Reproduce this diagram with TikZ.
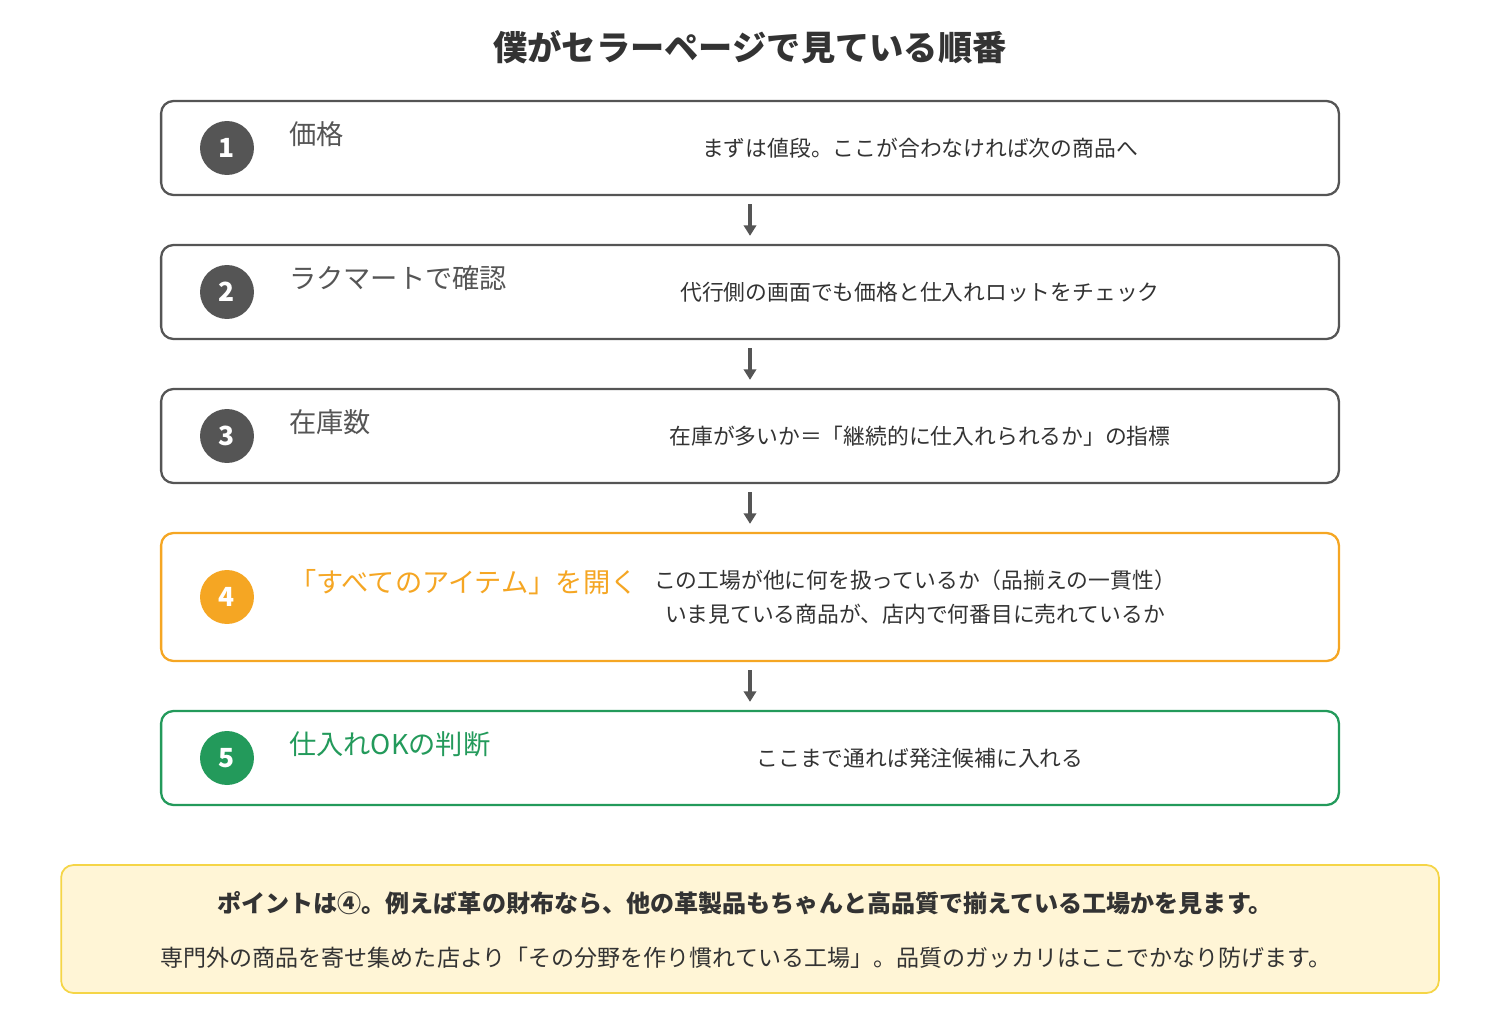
\documentclass[tikz,border=0pt]{standalone}
\usepackage{fontspec}
\newfontfamily\jp{Noto Sans CJK JP}
\usetikzlibrary{arrows.meta, positioning}
\definecolor{boxgray}{HTML}{555555}
\definecolor{textgray}{HTML}{333333}
\definecolor{steporange}{HTML}{F5A623}
\definecolor{stepgreen}{HTML}{239A5B}
\definecolor{notefill}{HTML}{FFF5D6}
\definecolor{noteline}{HTML}{F5D547}

\tikzset{
  step/.style={draw=#1, line width=1.3pt, rounded corners=7pt, minimum width=23.56cm, fill=white},
  num/.style={circle, fill=#1, minimum size=1.08cm, inner sep=0pt, text=white, font=\jp\bfseries\fontsize{15}{15}\selectfont},
  head/.style={anchor=west, text=#1, font=\jp\fontsize{15.5}{18}\selectfont},
  desc/.style={text=textgray, align=center, font=\jp\fontsize{12.4}{19}\selectfont},
  flow/.style={-{Triangle[length=6pt,width=7pt]}, line width=2pt, draw=boxgray}
}

\begin{document}
\begin{tikzpicture}[x=0.02cm, y=-0.02cm]
        \useasboundingbox (0,0) rectangle (1500,1030);

        % Title
        \node[text=textgray, font=\jp\bfseries\fontsize{19.5}{19.5}\selectfont] (title) at (750,47) {僕がセラーページで見ている順番};

        % Steps
        \node[step=boxgray, minimum height=1.88cm] (s1) at (750,148) {};
        \node[step=boxgray, minimum height=1.88cm] (s2) at (750,292) {};
        \node[step=boxgray, minimum height=1.88cm] (s3) at (750,436) {};
        \node[step=steporange, minimum height=2.56cm] (s4) at (750,597) {};
        \node[step=stepgreen, minimum height=1.88cm] (s5) at (750,758) {};

        \node[num=boxgray] (n1) at (227,148) {1};
        \node[num=boxgray] (n2) at (227,292) {2};
        \node[num=boxgray] (n3) at (227,436) {3};
        \node[num=steporange] (n4) at (227,597) {4};
        \node[num=stepgreen] (n5) at (227,758) {5};

        \node[head=boxgray] (h1) at (283,134) {価格};
        \node[head=boxgray] (h2) at (283,278) {ラクマートで確認};
        \node[head=boxgray] (h3) at (283,422) {在庫数};
        \node[head=steporange] (h4) at (283,582) {「すべてのアイテム」を開く};
        \node[head=stepgreen] (h5) at (283,744) {仕入れOKの判断};

        \node[desc] (d1) at (920,148) {まずは値段。ここが合わなければ次の商品へ};
        \node[desc] (d2) at (920,292) {代行側の画面でも価格と仕入れロットをチェック};
        \node[desc] (d3) at (920,436) {在庫が多いか＝「継続的に仕入れられるか」の指標};
        \node[desc] (d4) at (915,597) {この工場が他に何を扱っているか（品揃えの一貫性）\\いま見ている商品が、店内で何番目に売れているか};
        \node[desc] (d5) at (920,758) {ここまで通れば発注候補に入れる};

        % Arrows
        \draw[flow] ([yshift=-0.16cm]s1.south) -- ([yshift=0.16cm]s2.north);
        \draw[flow] ([yshift=-0.16cm]s2.south) -- ([yshift=0.16cm]s3.north);
        \draw[flow] ([yshift=-0.16cm]s3.south) -- ([yshift=0.16cm]s4.north);
        \draw[flow] ([yshift=-0.16cm]s4.south) -- ([yshift=0.16cm]s5.north);

        % Note
        \node[draw=noteline, fill=notefill, line width=1pt, rounded corners=7pt, minimum width=27.56cm, minimum height=2.56cm] (note) at (750,929) {};
        \node[text=textgray, font=\jp\bfseries\fontsize{13.7}{13.7}\selectfont] (p1) at (745,903) {ポイントは④。例えば革の財布なら、他の革製品もちゃんと高品質で揃えている工場かを見ます。};
        \node[text=textgray, font=\jp\fontsize{13.1}{13.1}\selectfont] (p2) at (746,958) {専門外の商品を寄せ集めた店より「その分野を作り慣れている工場」。品質のガッカリはここでかなり防げます。};
\end{tikzpicture}
\end{document}
